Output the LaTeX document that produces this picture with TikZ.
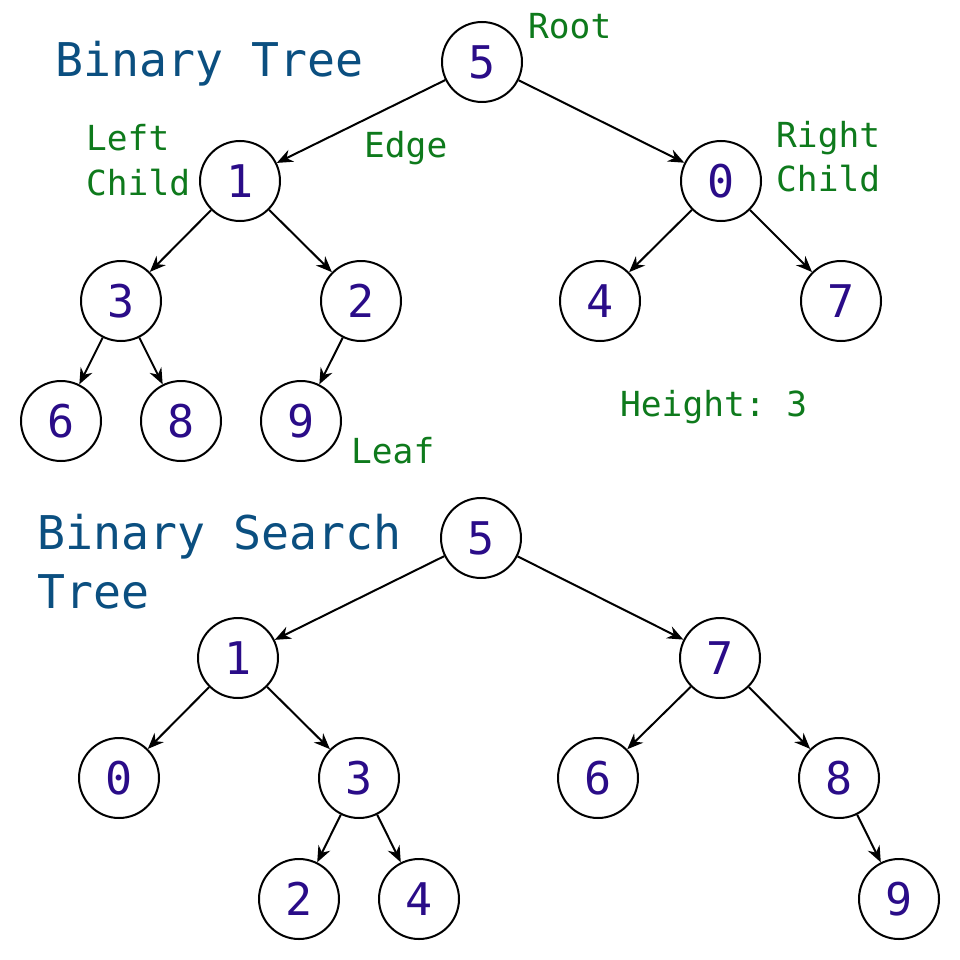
\documentclass[tikz,border=0pt]{standalone}
\usepackage{fontspec}
\setmonofont{DejaVu Sans Mono}
\usetikzlibrary{arrows.meta}
\definecolor{titleblue}{HTML}{0B4F80}
\definecolor{digitcol}{HTML}{2A0C88}
\definecolor{labgreen}{HTML}{0E7A1C}
\tikzset{
  tnode/.style={circle,draw=black,line width=2pt,minimum size=80pt,inner sep=0pt,
    font=\ttfamily\fontsize{45}{48}\selectfont,text=digitcol},
  tedge/.style={line width=2pt,-{Stealth[length=16pt,width=13pt]}},
  ttitle/.style={anchor=base west,inner sep=0pt,text=titleblue,align=left,
    font=\ttfamily\fontsize{46.5}{59}\selectfont},
  tlabel/.style={anchor=base west,inner sep=0pt,text=labgreen,align=left,
    font=\ttfamily\fontsize{34.5}{44}\selectfont}
}
\begin{document}
\begin{tikzpicture}[x=1pt,y=-1pt]
\useasboundingbox[fill=white] (0,0) rectangle (960,960);
% ---------- Binary Tree ----------
\node[ttitle] (t1) at (55,77) {Binary Tree};
\node[tnode] (a5) at (482,62) {5};
\node[tnode] (a1) at (240,181) {1};
\node[tnode] (a0) at (721,181) {0};
\node[tnode] (a3) at (121,301) {3};
\node[tnode] (a2) at (361,301) {2};
\node[tnode] (a4) at (600,301) {4};
\node[tnode] (a7) at (841,301) {7};
\node[tnode] (a6) at (61,421) {6};
\node[tnode] (a8) at (181,421) {8};
\node[tnode] (a9) at (301,421) {9};
\draw[tedge] (a5) -- (a1);
\draw[tedge] (a5) -- (a0);
\draw[tedge] (a1) -- (a3);
\draw[tedge] (a1) -- (a2);
\draw[tedge] (a0) -- (a4);
\draw[tedge] (a0) -- (a7);
\draw[tedge] (a3) -- (a6);
\draw[tedge] (a3) -- (a8);
\draw[tedge] (a2) -- (a9);
\node[tlabel] (lroot) at (528,39) {Root};
\node[tlabel] (lleft) at (86,195) {Left\\Child};
\node[tlabel] (ledge) at (364,158) {Edge};
\node[tlabel] (lright) at (776,192) {Right\\Child};
\node[tlabel] (lleaf) at (351,463) {Leaf};
\node[tlabel] (lheight) at (620,416) {Height: 3};
% ---------- Binary Search Tree ----------
\node[ttitle] (t2) at (37,608) {Binary Search\\Tree};
\node[tnode] (b5) at (481,538) {5};
\node[tnode] (b1) at (238,658) {1};
\node[tnode] (b7) at (720,658) {7};
\node[tnode] (b0) at (119,778) {0};
\node[tnode] (b3) at (359,778) {3};
\node[tnode] (b6) at (598,778) {6};
\node[tnode] (b8) at (839,778) {8};
\node[tnode] (b2) at (299,899) {2};
\node[tnode] (b4) at (419,899) {4};
\node[tnode] (b9) at (899,899) {9};
\draw[tedge] (b5) -- (b1);
\draw[tedge] (b5) -- (b7);
\draw[tedge] (b1) -- (b0);
\draw[tedge] (b1) -- (b3);
\draw[tedge] (b7) -- (b6);
\draw[tedge] (b7) -- (b8);
\draw[tedge] (b3) -- (b2);
\draw[tedge] (b3) -- (b4);
\draw[tedge] (b8) -- (b9);
\end{tikzpicture}
\end{document}
